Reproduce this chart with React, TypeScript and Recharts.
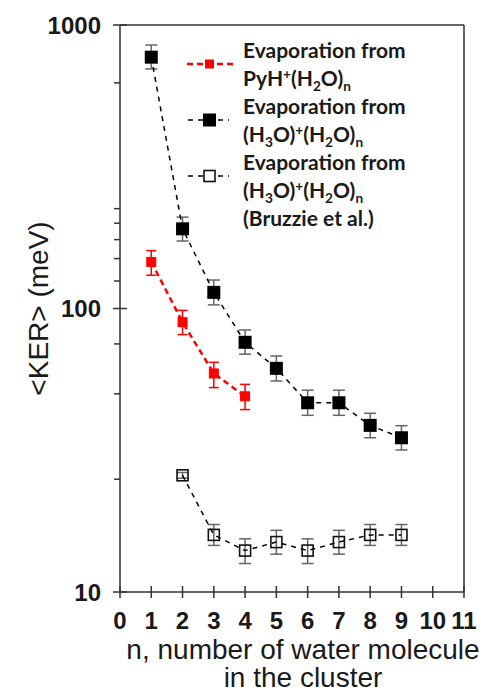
import React from 'react';
import { LineChart, Line, XAxis, YAxis, ErrorBar, ReferenceLine, Legend, Label } from 'recharts';

// ---- data ----
const nPyH = [1, 2, 3, 4];
const kerPyH = [146, 89.5, 59, 49];
const errPyH = [[15, 14], [8.6, 9], [6.4, 5.6], [5, 5]];

const nH3O = [1, 2, 3, 4, 5, 6, 7, 8, 9];
const kerH3O = [770, 191, 114, 76, 61.5, 46.5, 46.5, 38.7, 35];
const errH3O = [[70, 80], [18, 19], [11, 12], [7, 8], [6, 6.5], [4.5, 5], [4.5, 5], [3.7, 4], [3.3, 3.6]];

const nBruz = [2, 3, 4, 5, 6, 7, 8, 9];
const kerBruz = [25.8, 15.9, 14.0, 15.0, 14.0, 15.0, 15.9, 15.9];
const errBruz = [[0.6, 0.6], [1.3, 1.4], [1.4, 1.4], [1.4, 1.5], [1.4, 1.4], [1.4, 1.5], [1.3, 1.4], [1.3, 1.4]];

const xTicks = [0, 1, 2, 3, 4, 5, 6, 7, 8, 9, 10, 11];
const yTicks = [10, 25, 50, 75, 100, 125, 150, 175, 200, 225, 625, 1000];
const yMajorTicks = [10, 100, 1000];

const xTitleLines = ['n, number of water molecule', 'in the cluster'];
const yTitle = '<KER> (meV)';

const pyhData = nPyH.map((n, i) => ({ n, ker: kerPyH[i], err: errPyH[i] }));
const h3oData = nH3O.map((n, i) => ({ n, ker: kerH3O[i], err: errH3O[i] }));
const bruzData = nBruz.map((n, i) => ({ n, ker: kerBruz[i], err: errBruz[i] }));

const AXIS = '#333333';
const TEXT = '#1a1a1a';
const ARIAL = '"Liberation Sans", Arial, sans-serif';
const LEG_FONT = 'Lato, "Open Sans", sans-serif';

const XTick = (props: any) => {
  const { x, y, payload } = props;
  return (
    <g>
      <line x1={x} x2={x} y1={y - 6} y2={y + 6} stroke={AXIS} strokeWidth={1.5} />
      <text x={x} y={y + 37} textAnchor="middle" fontFamily={ARIAL} fontWeight="bold" fontSize={24} fill={TEXT}>
        {payload.value}
      </text>
    </g>
  );
};

const YTick = (props: any) => {
  const { x, y, payload } = props;
  const major = yMajorTicks.includes(payload.value);
  return (
    <g>
      <line x1={major ? x - 7 : x - 6} x2={major ? x + 7 : x} y1={y} y2={y} stroke={AXIS} strokeWidth={1.5} />
      {major && (
        <text x={x - 19} y={y} dy="0.36em" textAnchor="end" fontFamily={ARIAL} fontWeight="bold" fontSize={24} fill={TEXT}>
          {payload.value}
        </text>
      )}
    </g>
  );
};

const redDot = (p: any) => (
  <rect key={`r${p.index}`} x={p.cx - 4.5} y={p.cy - 4.5} width={9} height={9} fill="#ff0000" stroke="#ff0000" strokeWidth={1} />
);
const blackDot = (p: any) => (
  <rect key={`b${p.index}`} x={p.cx - 6.5} y={p.cy - 6.5} width={13} height={13} fill="#000" />
);
const openDot = (p: any) => (
  <rect key={`o${p.index}`} x={p.cx - 5.5} y={p.cy - 5.5} width={11} height={11} fill="none" stroke="#111" strokeWidth={1.6} />
);

const Sup = ({ children }: any) => (
  <span style={{ fontSize: '0.65em', lineHeight: 0, position: 'relative', top: '-0.55em' }}>{children}</span>
);
const Sub = ({ children }: any) => (
  <span style={{ fontSize: '0.65em', lineHeight: 0, position: 'relative', top: '0.35em' }}>{children}</span>
);

const LegendIcon = ({ kind }: { kind: string }) => (
  <svg width={58} height={56} style={{ display: 'block', flex: 'none' }}>
    {kind === 'red' ? (
      <g>
        <line x1={2} x2={48} y1={28} y2={28} stroke="#ff0000" strokeWidth={2.5} strokeDasharray="6 4" />
        <rect x={20} y={23.5} width={9} height={9} fill="#ff0000" />
      </g>
    ) : kind === 'black' ? (
      <g>
        <line x1={3} x2={44} y1={28} y2={28} stroke="#000" strokeWidth={1.5} strokeDasharray="5 5" />
        <rect x={18} y={21.5} width={13} height={13} fill="#000" />
      </g>
    ) : (
      <g>
        <line x1={3} x2={44} y1={28} y2={28} stroke="#000" strokeWidth={1.5} strokeDasharray="5 5" />
        <rect x={19} y={22.5} width={11} height={11} fill="#fff" stroke="#111" strokeWidth={1.6} />
      </g>
    )}
  </svg>
);

const legendRows = [
  { kind: 'red', lines: [<>Evaporation from</>, <>PyH<Sup>+</Sup>(H<Sub>2</Sub>O)<Sub>n</Sub></>] },
  { kind: 'black', lines: [<>Evaporation from</>, <>(H<Sub>3</Sub>O)<Sup>+</Sup>(H<Sub>2</Sub>O)<Sub>n</Sub></>] },
  {
    kind: 'open',
    lines: [<>Evaporation from</>, <>(H<Sub>3</Sub>O)<Sup>+</Sup>(H<Sub>2</Sub>O)<Sub>n</Sub></>, <>(Bruzzie et al.)</>],
  },
];

const LH = 28;

const renderLegend = () => (
  <div style={{ fontFamily: LEG_FONT, fontWeight: 700, fontSize: 21, lineHeight: `${LH}px`, color: TEXT }}>
    {legendRows.map((row, i) => (
      <div key={i} style={{ display: 'flex', alignItems: 'flex-start', height: row.lines.length * LH }}>
        <LegendIcon kind={row.kind} />
        <div>
          {row.lines.map((l, j) => (
            <div key={j} style={{ whiteSpace: 'nowrap', height: LH }}>{l}</div>
          ))}
        </div>
      </div>
    ))}
  </div>
);

const XTitle = (props: any) => {
  const vb = props.viewBox || { x: 120, y: 592, width: 344 };
  const cx = vb.x + vb.width / 2 + 11;
  return (
    <text fontFamily={ARIAL} fontSize={28} fill={TEXT} textAnchor="middle">
      <tspan x={cx} y={vb.y + 67}>{xTitleLines[0]}</tspan>
      <tspan x={cx} y={vb.y + 95}>{xTitleLines[1]}</tspan>
    </text>
  );
};

const YTitle = (props: any) => {
  const vb = props.viewBox || { x: 0, y: 25, width: 120, height: 567 };
  const cx = vb.x + 38;
  const cy = vb.y + vb.height / 2;
  return (
    <text x={cx} y={cy} transform={`rotate(-90 ${cx} ${cy})`} textAnchor="middle" dy="0.36em" fontFamily={ARIAL} fontSize={28} fill={TEXT}>
      {yTitle}
    </text>
  );
};

export default function App() {
  return (
    <div style={{ position: 'absolute', left: 0, top: 0, width: 497, height: 693, background: '#fff' }}>
      <LineChart width={497} height={693} margin={{ top: 25, right: 33, bottom: 71, left: 0 }}>
        <XAxis
          type="number"
          dataKey="n"
          domain={[0, 11]}
          ticks={xTicks}
          interval={0}
          allowDataOverflow
          height={30}
          tickSize={0}
          tickMargin={0}
          tickLine={false}
          tick={<XTick />}
          axisLine={{ stroke: AXIS, strokeWidth: 1.5 }}
        >
          <Label content={<XTitle />} />
        </XAxis>
        <YAxis
          type="number"
          scale="log"
          domain={[10, 1000]}
          ticks={yTicks}
          interval={0}
          allowDataOverflow
          width={120}
          tickSize={0}
          tickMargin={0}
          tickLine={false}
          tick={<YTick />}
          axisLine={{ stroke: AXIS, strokeWidth: 1.5 }}
        >
          <Label content={<YTitle />} />
        </YAxis>
        <ReferenceLine y={1000} stroke={AXIS} strokeWidth={1.5} />
        <ReferenceLine x={11} stroke={AXIS} strokeWidth={1.5} />
        <Legend
          layout="horizontal"
          verticalAlign="middle"
          align="center"
          content={renderLegend}
          wrapperStyle={{ top: 36, left: 185, width: 300, height: 200 }}
        />
        <Line
          data={h3oData}
          dataKey="ker"
          type="linear"
          stroke="#000"
          strokeWidth={1.5}
          strokeDasharray="5 5"
          dot={blackDot}
          activeDot={false}
          isAnimationActive={false}
        >
          <ErrorBar dataKey="err" direction="y" width={6} stroke="#666" strokeWidth={1.5} />
        </Line>
        <Line
          data={bruzData}
          dataKey="ker"
          type="linear"
          stroke="#000"
          strokeWidth={1.5}
          strokeDasharray="5 5"
          dot={openDot}
          activeDot={false}
          isAnimationActive={false}
        >
          <ErrorBar dataKey="err" direction="y" width={6} stroke="#666" strokeWidth={1.5} />
        </Line>
        <Line
          data={pyhData}
          dataKey="ker"
          type="linear"
          stroke="#ff0000"
          strokeWidth={2.5}
          strokeDasharray="6 4"
          dot={redDot}
          activeDot={false}
          isAnimationActive={false}
        >
          <ErrorBar dataKey="err" direction="y" width={5} stroke="#ff0000" strokeWidth={1.5} />
        </Line>
      </LineChart>
    </div>
  );
}
